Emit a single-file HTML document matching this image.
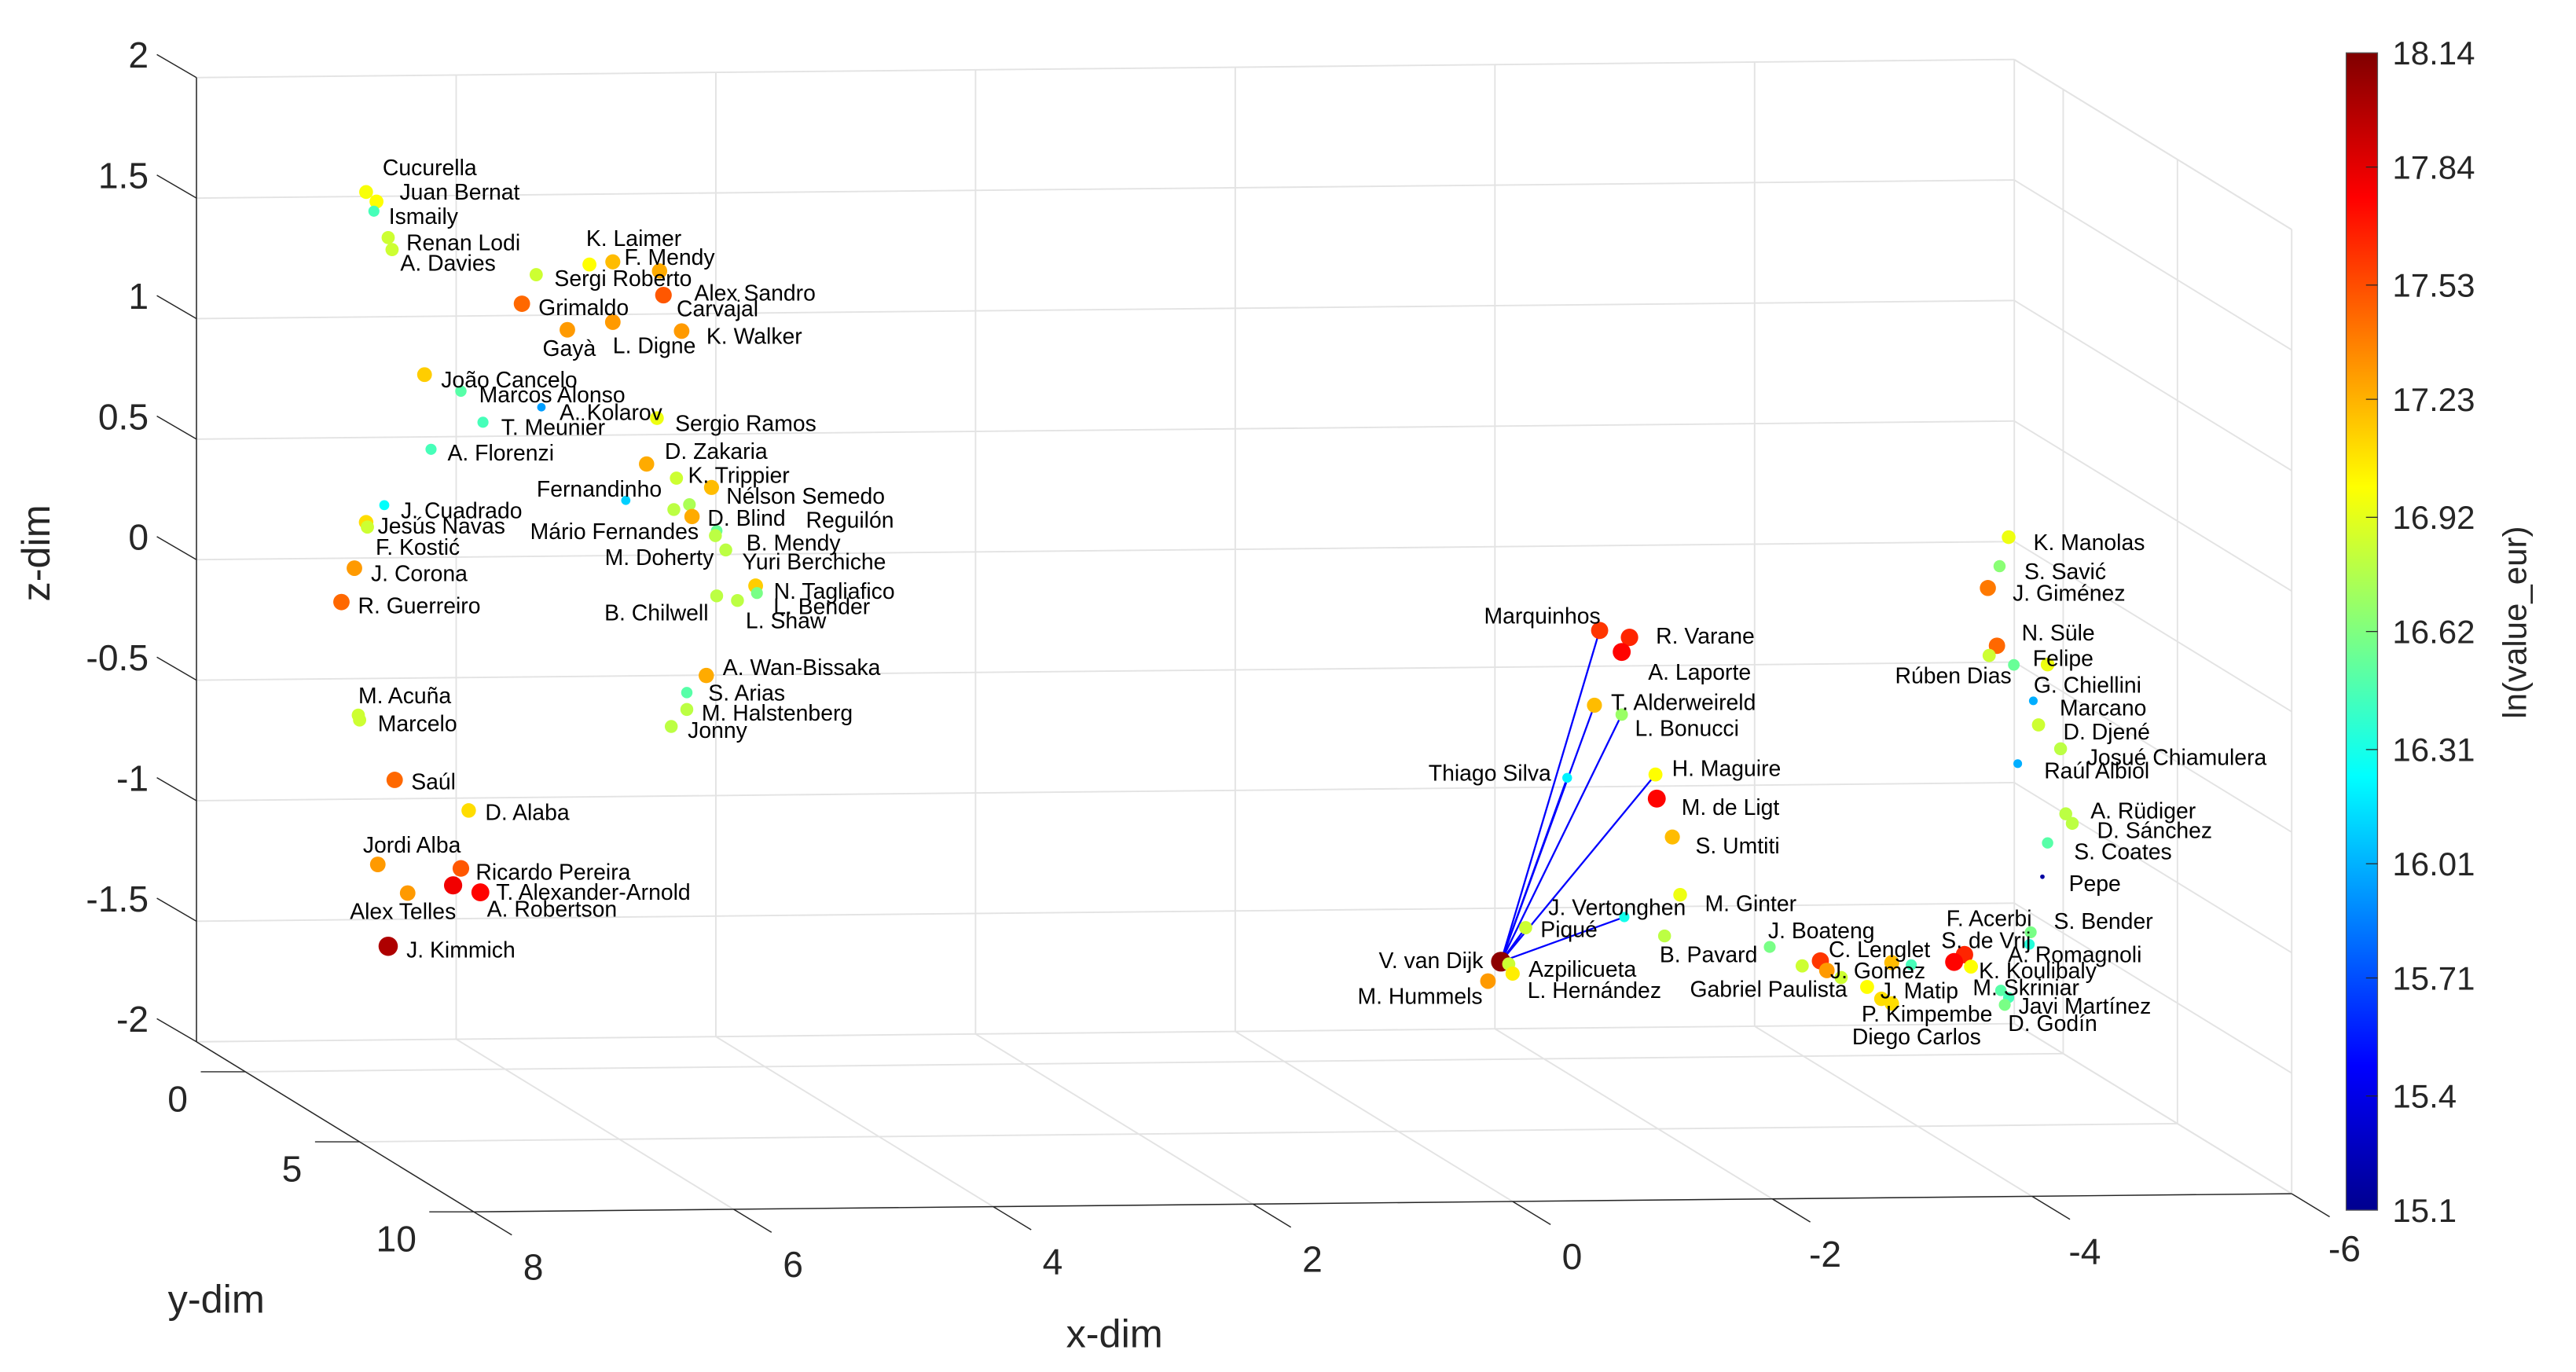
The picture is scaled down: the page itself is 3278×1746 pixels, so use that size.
<!DOCTYPE html>
<html><head><meta charset="utf-8"><style>
html,body{margin:0;padding:0;background:#fff;}
svg{display:block;}
text{font-family:"Liberation Sans",Arial,sans-serif;}
</style></head>
<body>
<svg id="chart" xmlns="http://www.w3.org/2000/svg" width="3278" height="1746" viewBox="0 0 1560.2 831" preserveAspectRatio="none">
<defs>
<linearGradient id="jet" x1="0" y1="1" x2="0" y2="0">
<stop offset="0" stop-color="#00008f"/><stop offset="0.125" stop-color="#0000ff"/><stop offset="0.375" stop-color="#00ffff"/><stop offset="0.625" stop-color="#ffff00"/><stop offset="0.875" stop-color="#ff0000"/><stop offset="1" stop-color="#800000"/>
</linearGradient>
</defs>
<g id="grid"></g>
<g id="axes"></g>
<g id="links"></g>
<g id="dots"></g>
<g id="labels"></g>
<g id="cbar">
<rect x="1421" y="32" width="19" height="701" fill="url(#jet)" stroke="#555" stroke-width="0.6"/>
<text x="1535" y="382" font-size="20" fill="#262626" text-anchor="middle" transform="rotate(-90 1530 382)">ln(value_eur)</text>
</g>
<text x="675" y="816" font-size="24" fill="#262626" text-anchor="middle">x-dim</text>
<text x="131" y="795" font-size="24" fill="#262626" text-anchor="middle">y-dim</text>
<text x="30" y="335" font-size="24" fill="#262626" text-anchor="middle" transform="rotate(-90 30 335)">z-dim</text>
</svg>
<script>
const names = ["Cucurella","Juan Bernat","Ismaily","Renan Lodi","A. Davies","Sergi Roberto","K. Laimer","F. Mendy","Alex Sandro","Carvajal","Grimaldo","Gayà","L. Digne","K. Walker","João Cancelo","Marcos Alonso","A. Kolarov","T. Meunier","Sergio Ramos","A. Florenzi","D. Zakaria","K. Trippier","Nélson Semedo","Fernandinho","Mário Fernandes","D. Blind","Reguilón","B. Mendy","M. Doherty","Yuri Berchiche","J. Cuadrado","Jesús Navas","F. Kostić","J. Corona","R. Guerreiro","N. Tagliafico","L. Bender","B. Chilwell","L. Shaw","A. Wan-Bissaka","S. Arias","M. Halstenberg","Jonny","M. Acuña","Marcelo","Saúl","D. Alaba","Jordi Alba","Ricardo Pereira","T. Alexander-Arnold","A. Robertson","Alex Telles","J. Kimmich",
"Marquinhos","R. Varane","A. Laporte","T. Alderweireld","L. Bonucci","Thiago Silva","H. Maguire","M. de Ligt","S. Umtiti","M. Ginter","J. Vertonghen","Piqué","B. Pavard","J. Boateng","V. van Dijk","Azpilicueta","L. Hernández","M. Hummels","C. Lenglet","Gabriel Paulista","J. Gomez","J. Matip","P. Kimpembe","Diego Carlos","F. Acerbi","K. Koulibaly","S. de Vrij","S. Bender","A. Romagnoli","M. Skriniar","Javi Martínez","D. Godín","K. Manolas","S. Savić","J. Giménez","N. Süle","Rúben Dias","G. Chiellini","Felipe","Marcano","D. Djené","Josué Chiamulera","Raúl Albiol","A. Rüdiger","D. Sánchez","S. Coates","Pepe","extra-1","extra-2","extra-3"];
const xVals = [7.95,7.87,7.89,7.78,7.75,6.64,6.23,6.05,5.69,5.66,6.75,6.40,6.05,5.52,7.50,7.22,6.60,7.05,5.71,7.45,5.79,5.56,5.29,5.95,5.58,5.46,5.44,5.25,5.26,5.18,7.81,7.95,7.94,8.04,8.14,4.95,4.94,5.25,5.09,5.33,5.48,5.48,5.60,8.01,8.00,7.73,7.16,7.86,7.22,7.28,7.07,7.63,7.78,
-1.55,-1.78,-1.72,-1.51,-1.72,-1.30,-1.98,-1.99,-2.11,-2.17,-1.74,-0.98,-2.05,-2.86,-0.79,-0.85,-0.88,-0.69,-3.25,-3.11,-3.30,-3.61,-3.72,-3.80,-4.36,-4.28,-4.41,-4.87,-4.86,-4.64,-4.70,-4.67,-4.70,-4.63,-4.54,-4.61,-4.55,-4.74,-5.00,-4.89,-4.93,-5.10,-4.77,-5.14,-5.19,-5.00,-4.96,-3.41,-3.80,-3.95];
const yVal = 5;
const zVals = [1.94,1.90,1.86,1.75,1.70,1.59,1.63,1.64,1.60,1.50,1.47,1.36,1.39,1.35,1.18,1.11,1.04,0.98,0.99,0.87,0.80,0.74,0.70,0.65,0.61,0.63,0.58,0.52,0.50,0.44,0.64,0.57,0.55,0.38,0.24,0.29,0.26,0.25,0.23,-0.08,-0.15,-0.22,-0.29,-0.23,-0.25,-0.50,-0.63,-0.85,-0.87,-0.94,-0.97,-0.97,-1.19,
0.07,0.04,-0.02,-0.24,-0.28,-0.54,-0.53,-0.63,-0.79,-1.03,-1.12,-1.16,-1.20,-1.25,-1.30,-1.31,-1.35,-1.38,-1.31,-1.33,-1.35,-1.42,-1.47,-1.49,-1.29,-1.32,-1.34,-1.20,-1.25,-1.44,-1.47,-1.50,0.44,0.32,0.23,-0.01,-0.05,-0.09,-0.09,-0.24,-0.34,-0.44,-0.50,-0.71,-0.75,-0.83,-0.97,-1.38,-1.32,-1.33];
const values = [16.98,17.0,16.45,16.85,16.85,16.85,17.0,17.2,17.25,17.5,17.45,17.3,17.3,17.3,17.15,16.5,15.95,16.45,16.95,16.45,17.25,16.85,17.2,16.1,16.8,16.75,17.25,16.55,16.8,16.8,16.25,17.1,16.85,17.3,17.45,17.15,16.6,16.8,16.8,17.25,16.5,16.8,16.8,16.85,16.85,17.45,17.1,17.3,17.5,17.8,17.75,17.3,18.0,
17.6,17.65,17.75,17.2,16.7,16.2,17.0,17.75,17.2,16.95,16.3,16.85,16.8,16.6,18.1,16.85,17.05,17.3,17.6,16.85,17.3,17.0,17.1,17.1,17.65,17.75,17.0,16.6,16.35,16.5,16.45,16.6,16.95,16.65,17.4,17.45,16.85,16.55,16.95,16.0,16.85,16.8,16.0,16.8,16.8,16.5,15.2,16.85,17.2,16.45];
const labelDx = [10,14,9,11,5,11,-2,7,21,8,10,-15,0,15,10,11,11,11,11,10,11,7,9,-54,-87,11,69,18,-67,10,10,7,5,10,10,11,10,-68,5,10,13,9,10,0,11,10,10,-9,9,26,4,-35,11,
-70,16,16,10,8,-84,10,15,14,15,-46,9,-3,-1,-74,12,9,-79,5,-68,2,8,-12,-24,-11,15,-18,14,-13,-17,6,2,15,15,15,15,-57,12,-9,16,15,16,16,15,15,16,16,null,null,null];
const labelDy = [-15,-6,3,3,8,2,-16,-3,13,8,2,11,14,3,3,2,3,3,3,2,-8,-2,5,-7,13,8,2,7,13,7,3,2,12,3,2,3,8,10,12,-5,0,2,2,-12,2,1,1,-12,2,4,10,11,2,
-9,-1,12,-2,8,-3,-4,5,5,5,-6,1,11,-10,-1,3,10,9,-7,14,0,2,9,20,-22,5,-16,-7,6,-2,5,11,3,3,3,-8,12,12,-4,4,4,5,4,-2,4,5,4,0,0,0];
const linkTargets = ["Marquinhos","T. Alderweireld","L. Bonucci","Thiago Silva","H. Maguire","J. Vertonghen","Piqué","L. Hernández"];
const linkSource = "V. van Dijk";
const xTicks = [8,6,4,2,0,-2,-4,-6];
const yTicks = [0,5,10];
const zTicks = [-2,-1.5,-1,-0.5,0,0.5,1,1.5,2];
const zTickLabels = ["-2","-1.5","-1","-0.5","0","0.5","1","1.5","2"];
const cbarTicks = [18.14,17.84,17.53,17.23,16.92,16.62,16.31,16.01,15.71,15.4,15.1];
const cbarTickLabels = ["18.14","17.84","17.53","17.23","16.92","16.62","16.31","16.01","15.71","15.4","15.1"];
const cmin = 15.1, cmax = 18.14;

const XMIN=-6, XMAX=8, YMIN=-2.14, YMAX=10, ZMIN=-2, ZMAX=2;
function proj(x,y,z){
  const u=(XMAX-x)/(XMAX-XMIN), v=(y-YMIN)/(YMAX-YMIN), w=(z-ZMIN)/(ZMAX-ZMIN);
  return [119+1101*u+168*v, 631-11*u+103*v-584*w];
}
function jet(t){
  t=Math.max(0,Math.min(1,t));
  const r=Math.max(0,Math.min(1,1.5-Math.abs(4*t-3)));
  const g=Math.max(0,Math.min(1,1.5-Math.abs(4*t-2)));
  const b=Math.max(0,Math.min(1,1.5-Math.abs(4*t-1)));
  return `rgb(${Math.round(r*255)},${Math.round(g*255)},${Math.round(b*255)})`;
}
const NS="http://www.w3.org/2000/svg";
function mk(tag,attrs,parent){const e=document.createElementNS(NS,tag);for(const k in attrs)e.setAttribute(k,attrs[k]);parent.appendChild(e);return e;}
function line(p,q,stroke,sw,parent,name){
  const e=mk('line',{x1:p[0],y1:p[1],x2:q[0],y2:q[1],stroke:stroke,'stroke-width':sw},parent);
  
  
  return e;
}
const grid=document.getElementById('grid'), axes=document.getElementById('axes');
const GC="#e3e3e3", GW=0.9, AC="#262626", AW=0.7;
xTicks.forEach(x=>line(proj(x,YMIN,ZMIN),proj(x,YMIN,ZMAX),GC,GW,grid,'back-x-gridline'));
zTicks.forEach(z=>line(proj(XMAX,YMIN,z),proj(XMIN,YMIN,z),GC,GW,grid,'back-z-gridline'));
xTicks.forEach(x=>line(proj(x,YMIN,ZMIN),proj(x,YMAX,ZMIN),GC,GW,grid,'floor-x-gridline'));
yTicks.forEach(y=>line(proj(XMAX,y,ZMIN),proj(XMIN,y,ZMIN),GC,GW,grid,'floor-y-gridline'));
yTicks.forEach(y=>line(proj(XMIN,y,ZMIN),proj(XMIN,y,ZMAX),GC,GW,grid,'side-y-gridline'));
zTicks.forEach(z=>line(proj(XMIN,YMIN,z),proj(XMIN,YMAX,z),GC,GW,grid,'side-z-gridline'));
line(proj(XMIN,YMIN,ZMAX),proj(XMIN,YMAX,ZMAX),GC,GW,grid,'side-top-edge');
line(proj(XMAX,YMIN,ZMIN),proj(XMAX,YMIN,ZMAX),AC,AW,axes,'z-axis-line');
line(proj(XMAX,YMIN,ZMIN),proj(XMAX,YMAX,ZMIN),AC,AW,axes,'y-axis-line');
line(proj(XMAX,YMAX,ZMIN),proj(XMIN,YMAX,ZMIN),AC,AW,axes,'x-axis-line');
xTicks.forEach((x,i)=>{
  const p=proj(x,YMAX,ZMIN);
  line(p,[p[0]+23,p[1]+14],AC,AW,axes,'x-tick');
  const t=mk('text',{x:p[0]+36+(x<0?-4:0),y:p[1]+41,'font-size':22,fill:'#262626','text-anchor':'middle'},axes);
  
  
  t.textContent=String(x);
});
yTicks.forEach((y,i)=>{
  const p=proj(XMAX,y,ZMIN);
  line(p,[p[0]-27,p[1]],AC,AW,axes,'y-tick');
  const t=mk('text',{x:p[0]-27-(y>=10?20:14),y:p[1]+24,'font-size':22,fill:'#262626','text-anchor':'middle'},axes);
  
  
  t.textContent=String(y);
});
zTicks.forEach((z,i)=>{
  const p=proj(XMAX,YMIN,z);
  line(p,[p[0]-24,p[1]-14],AC,AW,axes,'z-tick');
  const t=mk('text',{x:p[0]-29,y:p[1]-6,'font-size':22,fill:'#262626','text-anchor':'end'},axes);
  
  
  t.textContent=zTickLabels[i];
});
const cb=document.getElementById('cbar');
cbarTicks.forEach((v,i)=>{
  const y=733-(v-cmin)/(cmax-cmin)*701;
  if(i>0&&i<cbarTicks.length-1) line([1433,y],[1440,y],'#262626',0.6,cb,'colorbar-tick');
  const t=mk('text',{x:1449,y:y+7,'font-size':20,fill:'#262626'},cb);
  
  
  t.textContent=cbarTickLabels[i];
});
const links=document.getElementById('links');
const si=names.indexOf(linkSource);
const sp=proj(xVals[si],yVal,zVals[si]);
linkTargets.forEach(n=>{
  const j=names.indexOf(n);
  const q=proj(xVals[j],yVal,zVals[j]);
  line(sp,q,'#0000ff',1.1,links,'link-line');
});
const dots=document.getElementById('dots'), labs=document.getElementById('labels');
names.forEach((n,i)=>{
  const p=proj(xVals[i],yVal,zVals[i]);
  const t=(values[i]-cmin)/(cmax-cmin);
  const r=1.2+(values[i]-cmin)*1.6;
  const c=mk('circle',{cx:p[0],cy:p[1],r:r.toFixed(2),fill:jet(t)},dots);
  
  
  if(labelDx[i]!==null){
    const tx=mk('text',{x:p[0]+labelDx[i],y:p[1]+labelDy[i]+4.8,'font-size':13.5,fill:'#000'},labs);
    
    
    tx.textContent=n;
  }
});
</script>
</body></html>
